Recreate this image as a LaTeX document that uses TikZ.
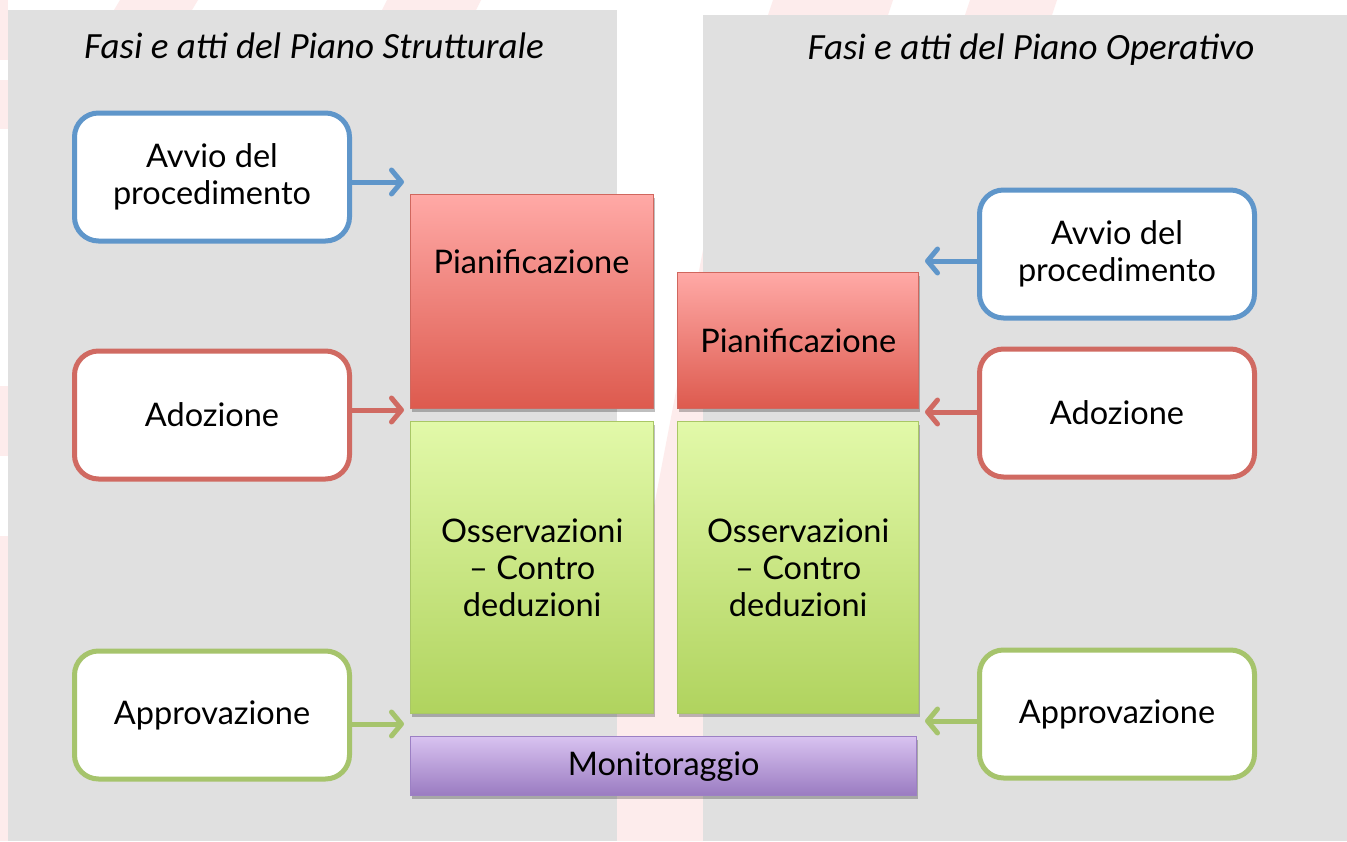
\documentclass[tikz,border=0pt]{standalone}
\usepackage{fontspec}
\setmainfont{Lato}
\newfontfamily\titlefont{Carlito}
\usetikzlibrary{arrows.meta,shadows}
\definecolor{panelgray}{HTML}{E0E0E0}
\definecolor{wmpink}{HTML}{FDECEC}
\definecolor{bblue}{HTML}{5F96CA}
\definecolor{bred}{HTML}{D06A62}
\definecolor{bgreen}{HTML}{A6C46C}
\definecolor{rtop}{HTML}{FFA9A6}
\definecolor{rbot}{HTML}{DD5A4E}
\definecolor{rline}{HTML}{D0675E}
\definecolor{gtop}{HTML}{E2F9A9}
\definecolor{gbot}{HTML}{B0D35E}
\definecolor{gline}{HTML}{A9C766}
\definecolor{ptop}{HTML}{D8C2F0}
\definecolor{pbot}{HTML}{9A7BC1}
\definecolor{pline}{HTML}{9C80C4}
\tikzset{
  actbox/.style={draw=#1, line width=5pt, fill=white, rounded corners=24pt,
    minimum width=275pt, minimum height=128pt, align=center,
    font=\fontsize{32.5}{37}\selectfont, inner sep=0pt},
  phase/.style={draw=#1, line width=1.4pt, align=center, inner sep=0pt,
    font=\fontsize{32.5}{37}\selectfont,
    drop shadow={shadow xshift=1pt, shadow yshift=-3pt, opacity=0.25, fill=black}},
  conn/.style={draw=#1, line width=5pt,
    -{Straight Barb[length=10pt,width=24pt,round]}},
  ttl/.style={font=\titlefont\itshape\fontsize{37}{44}\selectfont},
  plaintext/.style={font=\fontsize{32.5}{37}\selectfont, inner sep=0pt}
}
\begin{document}
\begin{tikzpicture}[x=1pt,y=-1pt]
\useasboundingbox (0,0) rectangle (1347,841);
\fill[white] (0,0) rectangle (1347,841);
% faint watermark
\fill[wmpink] (120,0) -- (198,0) -- (192,10) -- (114,10) -- cycle;
\fill[wmpink] (387,0) -- (481,0) -- (476,10) -- (382,10) -- cycle;
\fill[wmpink] (773,0) -- (893,0) -- (888,15) -- (768,15) -- cycle;
\fill[wmpink] (970,0) -- (1057,0) -- (1052,15) -- (965,15) -- cycle;
\fill[wmpink] (0,0) rectangle (8,60);
\fill[wmpink] (0,80) rectangle (8,129);
\fill[wmpink] (0,386) rectangle (8,456);
\fill[wmpink] (0,536) rectangle (8,841);
\fill[wmpink] (703,250) -- (703,841) -- (617,841) -- (617,700) -- cycle;
% panels
\fill[panelgray] (8,10) rectangle (617,841);
\fill[panelgray] (703,15) rectangle (1347,841);
\node[ttl] (t1) at (314,46) {Fasi e atti del Piano Strutturale};
\node[ttl] (t2) at (1031,50) {Fasi e atti del Piano Operativo};
% left act boxes
\node[actbox=bblue] (la) at (212,177) {Avvio del\\procedimento};
\node[actbox=bred] (ld) at (212,415) {Adozione};
\node[actbox=bgreen] (lp) at (212,715) {Approvazione};
% right act boxes
\node[actbox=bblue] (ra) at (1117,254) {Avvio del\\procedimento};
\node[actbox=bred] (rd) at (1117,413) {Adozione};
\node[actbox=bgreen] (rp) at (1117,714) {Approvazione};
% phases
\node[phase=rline, top color=rtop, bottom color=rbot, minimum width=243pt, minimum height=214pt, anchor=north west] (pl1) at (410,194) {};
\node[plaintext] (pl1t) at (531.5,262) {Pianificazione};
\node[phase=rline, top color=rtop, bottom color=rbot, minimum width=241pt, minimum height=136pt, anchor=north west] (pl2) at (677,272) {Pianificazione};
\node[phase=gline, top color=gtop, bottom color=gbot, minimum width=243pt, minimum height=292pt, anchor=north west] (os1) at (410,421) {Osservazioni\\– Contro\\deduzioni};
\node[phase=gline, top color=gtop, bottom color=gbot, minimum width=241pt, minimum height=292pt, anchor=north west] (os2) at (677,421) {Osservazioni\\– Contro\\deduzioni};
\node[phase=pline, top color=ptop, bottom color=pbot, minimum width=506pt, minimum height=59pt, anchor=north west] (mon) at (410,736) {Monitoraggio};
% arrow ends
\coordinate (e1) at (404,182);
\coordinate (e2) at (404,410);
\coordinate (e3) at (404,724);
\coordinate (e4) at (925,261);
\coordinate (e5) at (925,412);
\coordinate (e6) at (925,721);
\draw[conn=bblue] (la.east |- e1) -- (e1);
\draw[conn=bred] (ld.east |- e2) -- (e2);
\draw[conn=bgreen] (lp.east |- e3) -- (e3);
\draw[conn=bblue] (ra.west |- e4) -- (e4);
\draw[conn=bred] (rd.west |- e5) -- (e5);
\draw[conn=bgreen] (rp.west |- e6) -- (e6);
\end{tikzpicture}
\end{document}
